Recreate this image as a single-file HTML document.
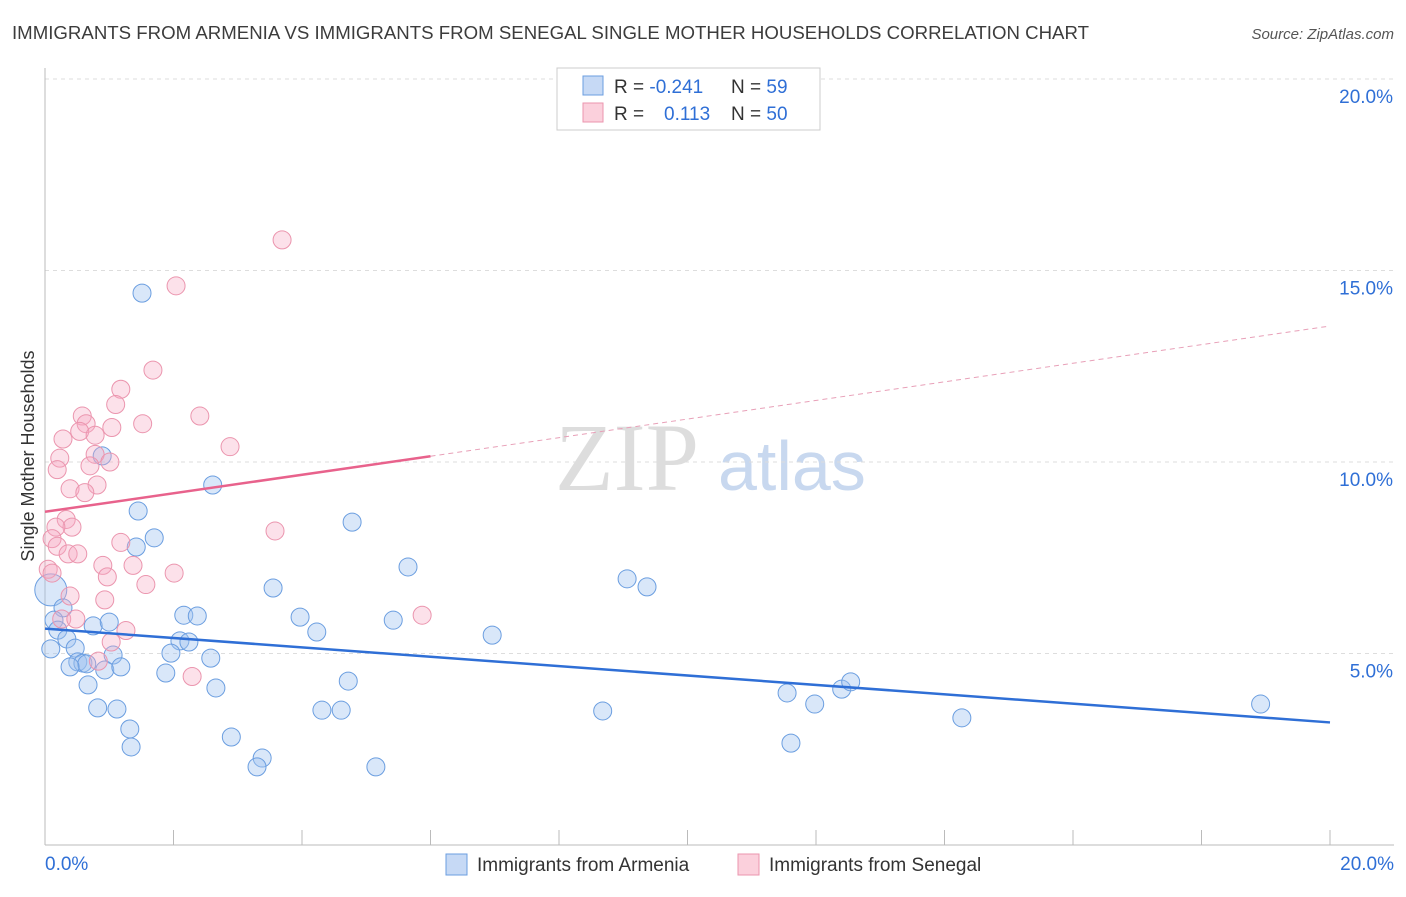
<!DOCTYPE html>
<html><head><meta charset="utf-8"><style>
body{margin:0;background:#fff;font-family:"Liberation Sans",sans-serif}
</style></head><body>
<svg id="chart" width="1406" height="892" viewBox="0 0 1406 892" xmlns="http://www.w3.org/2000/svg">
<text x="12" y="39" font-size="18" textLength="1077" lengthAdjust="spacingAndGlyphs" fill="#3c3c3c">IMMIGRANTS FROM ARMENIA VS IMMIGRANTS FROM SENEGAL SINGLE MOTHER HOUSEHOLDS CORRELATION CHART</text>
<text x="1394" y="39" font-size="15" fill="#555" text-anchor="end" font-style="italic">Source: ZipAtlas.com</text>
<text x="555" y="490" font-size="96" font-family="Liberation Serif,serif" fill="#ddd">ZIP</text>
<text x="718" y="490" font-size="70" fill="#c8d8ef">atlas</text>
<g id="grid"></g>
<g id="axes"></g>
<g id="marks"></g>
<text transform="translate(34,456) rotate(-90)" font-size="18" fill="#333" text-anchor="middle">Single Mother Households</text>
<g>
<rect x="557" y="68" width="263" height="62" fill="#fff" stroke="#ccc"/>
<rect x="583" y="76" width="20" height="19" fill="#c6d9f5" stroke="#6b9ee0"/>
<rect x="583" y="103" width="20" height="19" fill="#fbd0dc" stroke="#eb95ae"/>
<text x="614" y="93" font-size="19" fill="#333">R = <tspan fill="#2f6fd6">-0.241</tspan>  <tspan x="731">N = </tspan><tspan fill="#2f6fd6">59</tspan></text>
<text x="614" y="120" font-size="19" fill="#333">R = <tspan x="664" fill="#2f6fd6">0.113</tspan><tspan x="731">N = </tspan><tspan fill="#2f6fd6">50</tspan></text>
</g>
<g>
<rect x="446" y="854" width="21" height="21" fill="#c6d9f5" stroke="#6b9ee0"/>
<text x="477" y="871" font-size="19" fill="#333">Immigrants from Armenia</text>
<rect x="738" y="854" width="21" height="21" fill="#fbd0dc" stroke="#eb95ae"/>
<text x="769" y="871" font-size="19" fill="#333">Immigrants from Senegal</text>
</g>
</svg>
<script>
const armeniaX=[1.51,0.89,2.61,1.45,1.70,1.42,3.55,0.09,0.28,0.14,2.16,2.37,0.75,1.0,0.2,0.34,2.1,2.24,0.09,0.47,1.96,1.06,2.58,0.51,0.59,0.65,0.39,0.93,1.18,1.88,2.66,0.67,0.82,1.12,1.32,2.9,1.34,3.38,3.3,4.78,5.65,3.97,4.23,5.42,6.96,9.06,9.37,4.72,4.31,4.61,5.15,8.68,11.55,11.98,12.4,12.54,11.61,14.27,18.92];
const armeniaY=[14.41,10.16,9.4,8.72,8.02,7.78,6.71,6.66,6.19,5.87,6.0,5.98,5.72,5.82,5.61,5.38,5.33,5.3,5.12,5.14,5.01,4.96,4.88,4.78,4.75,4.73,4.65,4.57,4.65,4.49,4.1,4.18,3.58,3.55,3.03,2.82,2.56,2.27,2.04,8.43,7.26,5.95,5.56,5.87,5.48,6.95,6.74,4.28,3.52,3.52,2.04,3.5,3.97,3.68,4.07,4.26,2.66,3.32,3.68];
const senegalX=[3.69,2.04,1.68,1.18,1.1,0.58,2.41,1.52,0.64,1.04,0.54,0.78,0.28,2.88,0.78,0.23,1.01,0.7,0.19,0.39,0.81,0.62,0.33,0.42,3.58,0.17,1.18,0.11,0.19,0.36,0.51,1.37,0.9,0.97,0.05,1.57,2.01,0.11,0.39,5.87,0.93,0.26,1.26,1.03,0.83,2.29,0.48];
const senegalY=[15.8,14.6,12.4,11.9,11.5,11.2,11.2,11.0,11.0,10.9,10.8,10.7,10.6,10.4,10.2,10.1,10.0,9.9,9.8,9.3,9.4,9.2,8.5,8.3,8.2,8.3,7.9,8.0,7.8,7.6,7.6,7.3,7.3,7.0,7.2,6.8,7.1,7.1,6.5,6.0,6.4,5.9,5.6,5.3,4.8,4.4,5.9];
const xTicks=[0,20];
const yTicks=[5,10,15,20];
const armeniaTrend=[[0,5.65],[20,3.2]];
const senegalTrendSolid=[[0,8.7],[6,10.15]];
const senegalTrendDash=[[6,10.15],[20,13.55]];
const NS='http://www.w3.org/2000/svg';
const sx=v=>45+v/20*1285, sy=v=>845-v*38.3;
function mk(tag,attrs,parent){const e=document.createElementNS(NS,tag);for(const k in attrs)e.setAttribute(k,attrs[k]);document.getElementById(parent).appendChild(e);return e;}
yTicks.forEach(t=>{
 const l=mk('line',{x1:45,x2:1394,y1:sy(t),y2:sy(t),stroke:'#ddd','stroke-dasharray':'4,4'},'grid');
 
 
 const tx=mk('text',{x:1393,y:sy(t)+24,'font-size':19,fill:'#2f6fd6','text-anchor':'end'},'axes');
 tx.textContent=t.toFixed(1)+'%';
 
 
});
const ax=mk('line',{x1:45,x2:1394,y1:845,y2:845,stroke:'#bbb'},'axes');


const ay=mk('line',{x1:45,x2:45,y1:68,y2:845,stroke:'#bbb'},'axes');


for(let i=1;i<=10;i++){const x=45+i*128.5;const tk=mk('line',{x1:x,x2:x,y1:830,y2:845,stroke:'#bbb'},'axes');
 
 }
xTicks.forEach((t,i)=>{const tx=mk('text',{x:i==0?45:1394,y:870,'font-size':19,fill:'#2f6fd6','text-anchor':i==0?'start':'end'},'axes');
 tx.textContent=t.toFixed(1)+'%';
 
 });
armeniaX.forEach((v,i)=>{const c=mk('circle',{cx:sx(v),cy:sy(armeniaY[i]),r:i==7?16:9,fill:'rgba(160,195,240,0.4)',stroke:'#6b9ee0','stroke-width':1},'marks');
 
 });
senegalX.forEach((v,i)=>{const c=mk('circle',{cx:sx(v),cy:sy(senegalY[i]),r:9,fill:'rgba(245,170,195,0.35)',stroke:'#eb95ae','stroke-width':1},'marks');
 
 });
function tl(p,stroke,w,dash,name){const l=mk('line',{x1:sx(p[0][0]),y1:sy(p[0][1]),x2:sx(p[1][0]),y2:sy(p[1][1]),stroke:stroke,'stroke-width':w,'stroke-dasharray':dash},'marks');
 
 }
tl(armeniaTrend,'#2f6fd6',2.5,'none','armenia-trendline');
tl(senegalTrendSolid,'#e8628c',2.5,'none','senegal-trendline');
tl(senegalTrendDash,'#e8a0b8',1,'5,4','senegal-trendline-extension');
</script>
</body></html>
